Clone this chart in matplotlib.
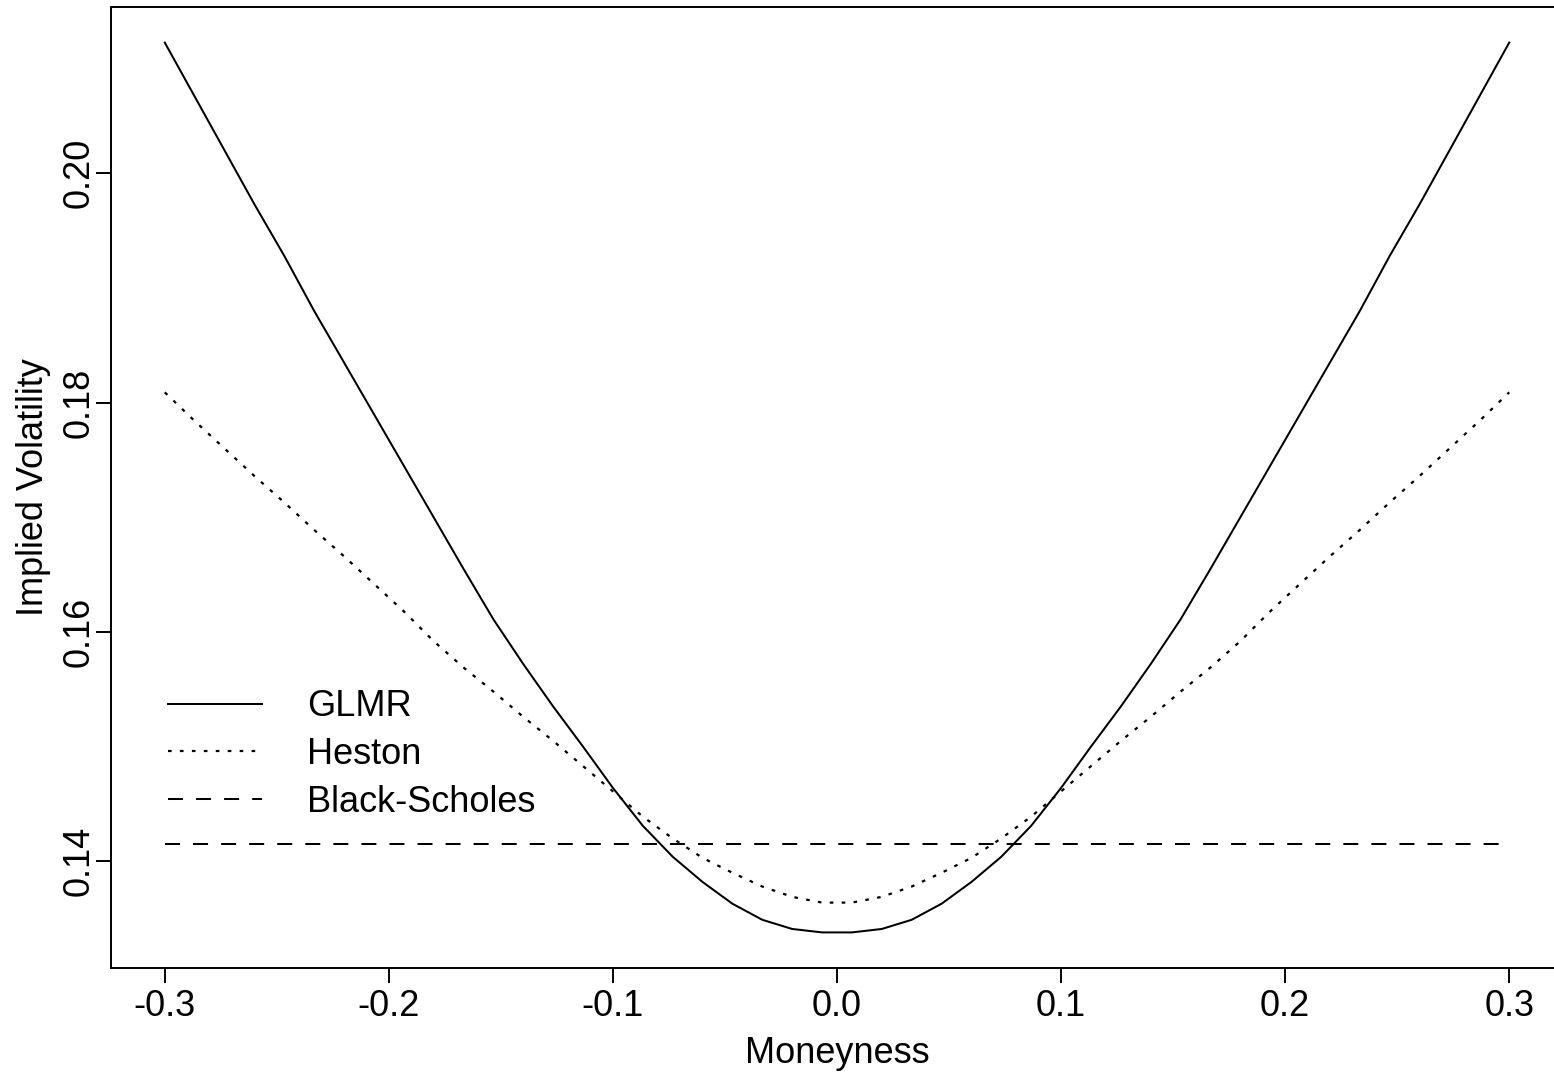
import numpy as np
import matplotlib
matplotlib.use("Agg")
import matplotlib.pyplot as plt

# Log-moneyness grid (46 strikes between -0.3 and 0.3)
moneyness = np.linspace(-0.3, 0.3, 46)

glmr_vol = [0.2114, 0.2067, 0.2020, 0.1973, 0.1928, 0.1880, 0.1835, 0.1790,
            0.1745, 0.1700, 0.1655, 0.1611, 0.1572, 0.1535, 0.1500, 0.1464,
            0.1431, 0.1404, 0.1382, 0.1363, 0.1349, 0.1341, 0.1338,
            0.1338, 0.1341, 0.1349, 0.1363, 0.1382, 0.1404, 0.1431, 0.1464,
            0.1500, 0.1535, 0.1572, 0.1611, 0.1655, 0.1700, 0.1745, 0.1790,
            0.1835, 0.1880, 0.1928, 0.1973, 0.2020, 0.2067, 0.2114]

heston_vol = [0.1809, 0.1784, 0.1760, 0.1736, 0.1713, 0.1689, 0.1666, 0.1642,
              0.1618, 0.1592, 0.1569, 0.1548, 0.1526, 0.1505, 0.1483, 0.1461,
              0.1439, 0.1420, 0.1403, 0.1390, 0.1378, 0.1369, 0.1364,
              0.1364, 0.1369, 0.1378, 0.1390, 0.1403, 0.1420, 0.1439, 0.1461,
              0.1483, 0.1505, 0.1526, 0.1548, 0.1569, 0.1592, 0.1618, 0.1642,
              0.1666, 0.1689, 0.1713, 0.1736, 0.1760, 0.1784, 0.1809]

bs_vol = 0.1415

series_labels = ["GLMR", "Heston", "Black-Scholes"]
x_ticks = [-0.3, -0.2, -0.1, 0.0, 0.1, 0.2, 0.3]
x_tick_labels = ["-0.3", "-0.2", "-0.1", "0.0", "0.1", "0.2", "0.3"]
y_ticks = [0.14, 0.16, 0.18, 0.20]
y_tick_labels = ["0.14", "0.16", "0.18", "0.20"]

plt.rcParams["font.family"] = ["Liberation Sans", "DejaVu Sans"]
plt.rcParams["lines.scale_dashes"] = False

W, H, DPI = 1554, 1072, 100
fig = plt.figure(figsize=(W / DPI, H / DPI), dpi=DPI)
fig.patch.set_facecolor("white")

# plot region in pixels
left_px, right_px, top_px, bottom_px = 111, 1563, 7, 968
ax = fig.add_axes([left_px / W, 1 - bottom_px / H,
                   (right_px - left_px) / W, (bottom_px - top_px) / H])

lw = 1.45
ax.plot(moneyness, glmr_vol, color="black", lw=lw, solid_joinstyle="miter",
        label=series_labels[0])
ax.plot(moneyness, heston_vol, color="black", lw=1.6,
        linestyle=(0, (2.6, 6.0)), label=series_labels[1])
ax.plot([moneyness[0], moneyness[-1]], [bs_vol, bs_vol], color="black", lw=lw,
        linestyle=(0, (10.8, 9.4)), label=series_labels[2])

# R-style 4% padding of the data range
xmin, xmax = moneyness[0], moneyness[-1]
allv = glmr_vol + heston_vol + [bs_vol]
ymin, ymax = min(allv), max(allv)
xpad = 0.04 * (xmax - xmin)
ypad = 0.04 * (ymax - ymin)
ax.set_xlim(xmin - xpad, xmax + xpad)
ax.set_ylim(ymin - ypad, ymax + ypad)

ax.set_xticks(x_ticks)
ax.set_xticklabels(x_tick_labels)
ax.set_yticks(y_ticks)
ax.set_yticklabels(y_tick_labels, rotation=90, va="center")

fs = 26
ax.tick_params(axis="both", direction="out", length=11, width=1.4,
               labelsize=fs, color="black")
ax.tick_params(axis="x", pad=4)
ax.tick_params(axis="y", pad=-1)
for sp in ax.spines.values():
    sp.set_linewidth(1.4)
    sp.set_color("black")

ax.set_xlabel("Moneyness", fontsize=fs, labelpad=9)
ax.set_ylabel("Implied Volatility", fontsize=fs, labelpad=8)

ax.legend(loc="upper left", bbox_to_anchor=(0.039, 0.290), frameon=False,
          fontsize=fs, handlelength=2.6, handletextpad=1.25,
          labelspacing=0.35, borderpad=0, borderaxespad=0)

fig.savefig("out.png", dpi=DPI, facecolor="white")
